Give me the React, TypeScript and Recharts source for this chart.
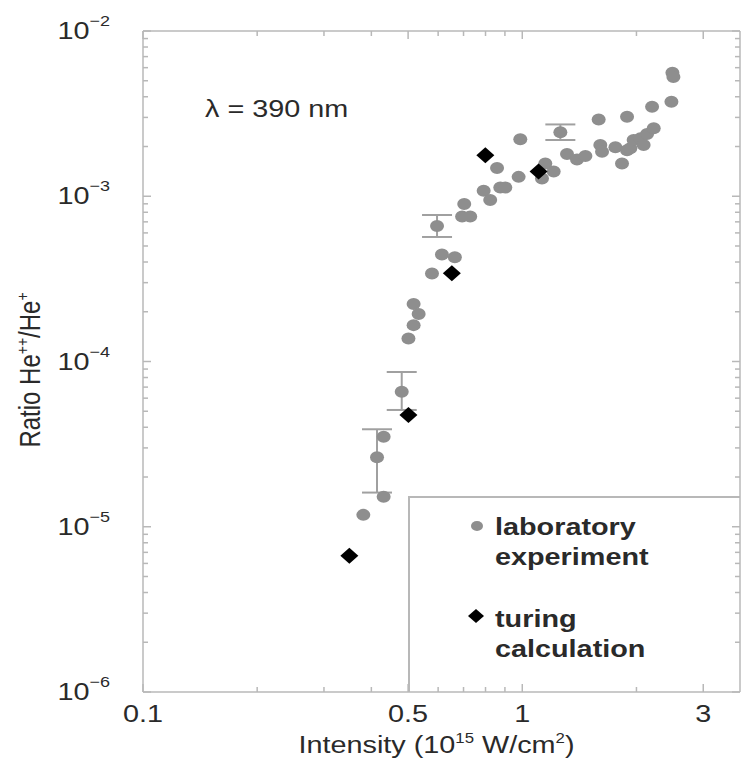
import React from 'react';
import { ScatterChart, Scatter, XAxis, YAxis, ErrorBar, Legend, Customized } from 'recharts';

// laboratory experiment points
const labIntensity = [
  0.381, 0.431, 0.431, 0.501, 0.517, 0.533, 0.517, 0.578, 0.614, 0.664,
  0.694, 0.729, 0.703, 0.791, 0.823, 0.875, 0.902, 0.858, 0.978, 0.988,
  1.127, 1.15, 1.21, 1.312, 1.394, 1.467, 1.59, 1.606, 1.623, 1.76,
  1.832, 1.889, 1.889, 1.927, 1.966, 2.048, 2.089, 2.133, 2.199, 2.221,
  2.473, 2.488, 2.503,
];
const labRatio = [
  1.18e-5, 3.51e-5, 1.52e-5, 1.38e-4, 1.66e-4, 1.94e-4, 2.23e-4, 3.41e-4, 4.44e-4, 4.27e-4,
  7.54e-4, 7.54e-4, 8.98e-4, 1.08e-3, 9.49e-4, 1.13e-3, 1.13e-3, 1.48e-3, 1.31e-3, 2.21e-3,
  1.28e-3, 1.58e-3, 1.41e-3, 1.8e-3, 1.67e-3, 1.75e-3, 2.91e-3, 2.04e-3, 1.86e-3, 1.98e-3,
  1.58e-3, 3.03e-3, 1.9e-3, 1.95e-3, 2.19e-3, 2.24e-3, 2.04e-3, 2.38e-3, 3.48e-3, 2.58e-3,
  3.73e-3, 5.59e-3, 5.27e-3,
];

// lab points that carry error bars
const errIntensity = [0.414, 0.481, 0.596, 1.26];
const errRatio = [2.63e-5, 6.57e-5, 6.61e-4, 2.44e-3];
const errLow = [1.61e-5, 5.09e-5, 5.67e-4, 2.19e-3];
const errHigh = [3.89e-5, 8.64e-5, 7.7e-4, 2.72e-3];

// turing calculation
const turingIntensity = [0.35, 0.501, 0.652, 0.799, 1.104];
const turingRatio = [6.68e-6, 4.75e-5, 3.42e-4, 1.77e-3, 1.41e-3];

const xTicks = [0.1, 0.2, 0.3, 0.4, 0.5, 0.6, 0.7, 0.8, 0.9, 1, 2, 3];
const xMajor = [0.1, 0.5, 1, 3];
const xMajorLabels = ['0.1', '0.5', '1', '3'];
const yDecades = [1e-6, 1e-5, 1e-4, 1e-3, 1e-2];
const yDecadeLabels = ['−6', '−5', '−4', '−3', '−2'];
const mantissas = [2, 3, 4, 5, 6, 7, 8, 9];

const yTicks: number[] = [];
yDecades.forEach((d, i) => {
  yTicks.push(d);
  if (i < yDecades.length - 1) mantissas.forEach((m) => yTicks.push(m * d));
});

const labData = labIntensity.map((x, i) => ({ x, y: labRatio[i] }));
const errData = errIntensity.map((x, i) => ({
  x,
  y: errRatio[i],
  err: [errRatio[i] - errLow[i], errHigh[i] - errRatio[i]],
}));
const turingData = turingIntensity.map((x, i) => ({ x, y: turingRatio[i] }));

const FONT = '"Liberation Sans", Arial, Helvetica, sans-serif';
const SX = 1.2; // the original figure is stretched horizontally
const AXIS = '#b8b8b8';
const TEXT = '#2a2a2a';
const LAB = '#8e8e8e';

function StretchText({ x, y, anchor = 'start', size = 24, weight = 'normal', children }: any) {
  return (
    <g transform={`translate(${x},${y}) scale(${SX},1)`}>
      <text x={0} y={0} textAnchor={anchor} fontSize={size} fontWeight={weight} fontFamily={FONT} fill={TEXT}>
        {children}
      </text>
    </g>
  );
}

const near = (a: number, b: number) => Math.abs(a - b) / b < 1e-6;

const XTick = (props: any) => {
  const { x, y, payload, side } = props;
  const v = payload.value;
  const mi = xMajor.findIndex((m) => near(v, m));
  const len = mi >= 0 ? 8 : 5;
  const dir = side === 'bottom' ? -1 : 1;
  return (
    <g>
      <line x1={x} x2={x} y1={y} y2={y + dir * len} stroke={AXIS} strokeWidth={1.5} />
      {side === 'bottom' && mi >= 0 && (
        <StretchText x={x} y={y + 30} anchor="middle">{xMajorLabels[mi]}</StretchText>
      )}
    </g>
  );
};

const YTick = (props: any) => {
  const { x, y, payload, side } = props;
  const v = payload.value;
  const mi = yDecades.findIndex((m) => near(v, m));
  const len = mi >= 0 ? 8 : 5;
  const dir = side === 'left' ? 1 : -1;
  return (
    <g>
      <line x1={x} x2={x + dir * len} y1={y} y2={y} stroke={AXIS} strokeWidth={1.5} />
      {side === 'left' && mi >= 0 && (
        <StretchText x={x - 33} y={y + 8} anchor="end">
          10<tspan dy={-13} fontSize={15}>{yDecadeLabels[mi]}</tspan>
        </StretchText>
      )}
    </g>
  );
};

const GrayDot = (p: any) => <ellipse cx={p.cx} cy={p.cy} rx={7} ry={6} fill={LAB} />;
const BlackDiamond = (p: any) => {
  const { cx, cy } = p;
  return <polygon points={`${cx},${cy - 8} ${cx + 9},${cy} ${cx},${cy + 8} ${cx - 9},${cy}`} fill="#000" />;
};
const NoDot = () => <g />;

const XTitle = (props: any) => {
  const vb = props.viewBox;
  return (
    <StretchText x={vb.x + vb.width / 2 - 5} y={vb.y + 61} anchor="middle">
      Intensity (10<tspan dy={-10} fontSize={14}>15</tspan>
      <tspan dy={10}> W/cm</tspan>
      <tspan dy={-10} fontSize={14}>2</tspan>
      <tspan dy={10}>)</tspan>
    </StretchText>
  );
};

const YTitle = () => (
  <g transform="translate(40,370) rotate(-90) scale(1,1.2)">
    <text x={0} y={0} textAnchor="middle" fontSize={24} fontFamily={FONT} fill={TEXT}>
      Ratio He<tspan dy={-10} fontSize={14}>++</tspan>
      <tspan dy={10}>/He</tspan>
      <tspan dy={-10} fontSize={14}>+</tspan>
    </text>
  </g>
);

const LegendBox = (props: any) => {
  const items = (props.payload || []).filter((p: any) => p.type !== 'none');
  return (
    <svg width={332} height={196} style={{ display: 'block' }}>
      <path d="M1,196 L1,1 L332,1" fill="none" stroke={AXIS} strokeWidth={2} />
      {items.map((it: any, i: number) => {
        const [l1, l2] = String(it.value).split(' ');
        const top = i * 92;
        return (
          <g key={i}>
            {i === 0 ? (
              <ellipse cx={69} cy={top + 30} rx={6} ry={5} fill={LAB} />
            ) : (
              <polygon points={`68,${top + 21} 76,${top + 28} 68,${top + 35} 60,${top + 28}`} fill="#000" />
            )}
            <StretchText x={87} y={top + 39} weight="bold">{l1}</StretchText>
            <StretchText x={87} y={top + 69} weight="bold">{l2}</StretchText>
          </g>
        );
      })}
    </svg>
  );
};

const Note = () => <StretchText x={205} y={117}>λ = 390 nm</StretchText>;

export default function App() {
  return (
    <div style={{ position: 'absolute', left: 0, top: 0, width: 744, height: 760, background: '#fff' }}>
      <ScatterChart width={744} height={760} margin={{ top: 30, right: 3, bottom: 0, left: 0 }}>
        <XAxis
          xAxisId="b"
          dataKey="x"
          type="number"
          scale="log"
          domain={[0.1, 3.75]}
          allowDataOverflow
          ticks={xTicks}
          interval={0}
          height={68}
          tickSize={0}
          tickMargin={0}
          tickLine={false}
          axisLine={{ stroke: AXIS, strokeWidth: 1.5 }}
          tick={<XTick side="bottom" />}
          label={{ content: (p: any) => <XTitle {...p} /> }}
        />
        <XAxis
          xAxisId="t"
          dataKey="x"
          orientation="top"
          type="number"
          scale="log"
          domain={[0.1, 3.75]}
          allowDataOverflow
          ticks={xTicks}
          interval={0}
          height={1}
          tickSize={0}
          tickMargin={0}
          tickLine={false}
          axisLine={{ stroke: AXIS, strokeWidth: 1.5 }}
          tick={<XTick side="top" />}
        />
        <YAxis
          yAxisId="l"
          dataKey="y"
          type="number"
          scale="log"
          domain={[1e-6, 1e-2]}
          allowDataOverflow
          ticks={yTicks}
          interval={0}
          width={143}
          tickSize={0}
          tickMargin={0}
          tickLine={false}
          axisLine={{ stroke: AXIS, strokeWidth: 1.5 }}
          tick={<YTick side="left" />}
          label={{ content: () => <YTitle /> }}
        />
        <YAxis
          yAxisId="r"
          dataKey="y"
          orientation="right"
          type="number"
          scale="log"
          domain={[1e-6, 1e-2]}
          allowDataOverflow
          ticks={yTicks}
          interval={0}
          width={1}
          tickSize={0}
          tickMargin={0}
          tickLine={false}
          axisLine={{ stroke: AXIS, strokeWidth: 1.5 }}
          tick={<YTick side="right" />}
        />
        <Legend
          layout="vertical"
          align="center"
          verticalAlign="middle"
          content={<LegendBox />}
          wrapperStyle={{ position: 'absolute', left: 408, top: 496, width: 332, height: 196 }}
        />
        {/* invisible copy so the mirrored top/right frame axes get drawn */}
        <Scatter
          name="frame"
          legendType="none"
          data={labData}
          xAxisId="t"
          yAxisId="r"
          shape={NoDot}
          isAnimationActive={false}
        />
        <Scatter
          name="errors"
          legendType="none"
          data={errData}
          xAxisId="b"
          yAxisId="l"
          shape={GrayDot}
          isAnimationActive={false}
        >
          <ErrorBar dataKey="err" direction="y" width={15} stroke="#a0a0a0" strokeWidth={2} isAnimationActive={false} />
        </Scatter>
        <Scatter
          name="laboratory experiment"
          data={labData}
          xAxisId="b"
          yAxisId="l"
          fill={LAB}
          shape={GrayDot}
          isAnimationActive={false}
        />
        <Scatter
          name="turing calculation"
          data={turingData}
          xAxisId="b"
          yAxisId="l"
          fill="#000"
          shape={BlackDiamond}
          isAnimationActive={false}
        />
        <Customized component={Note} />
      </ScatterChart>
    </div>
  );
}
